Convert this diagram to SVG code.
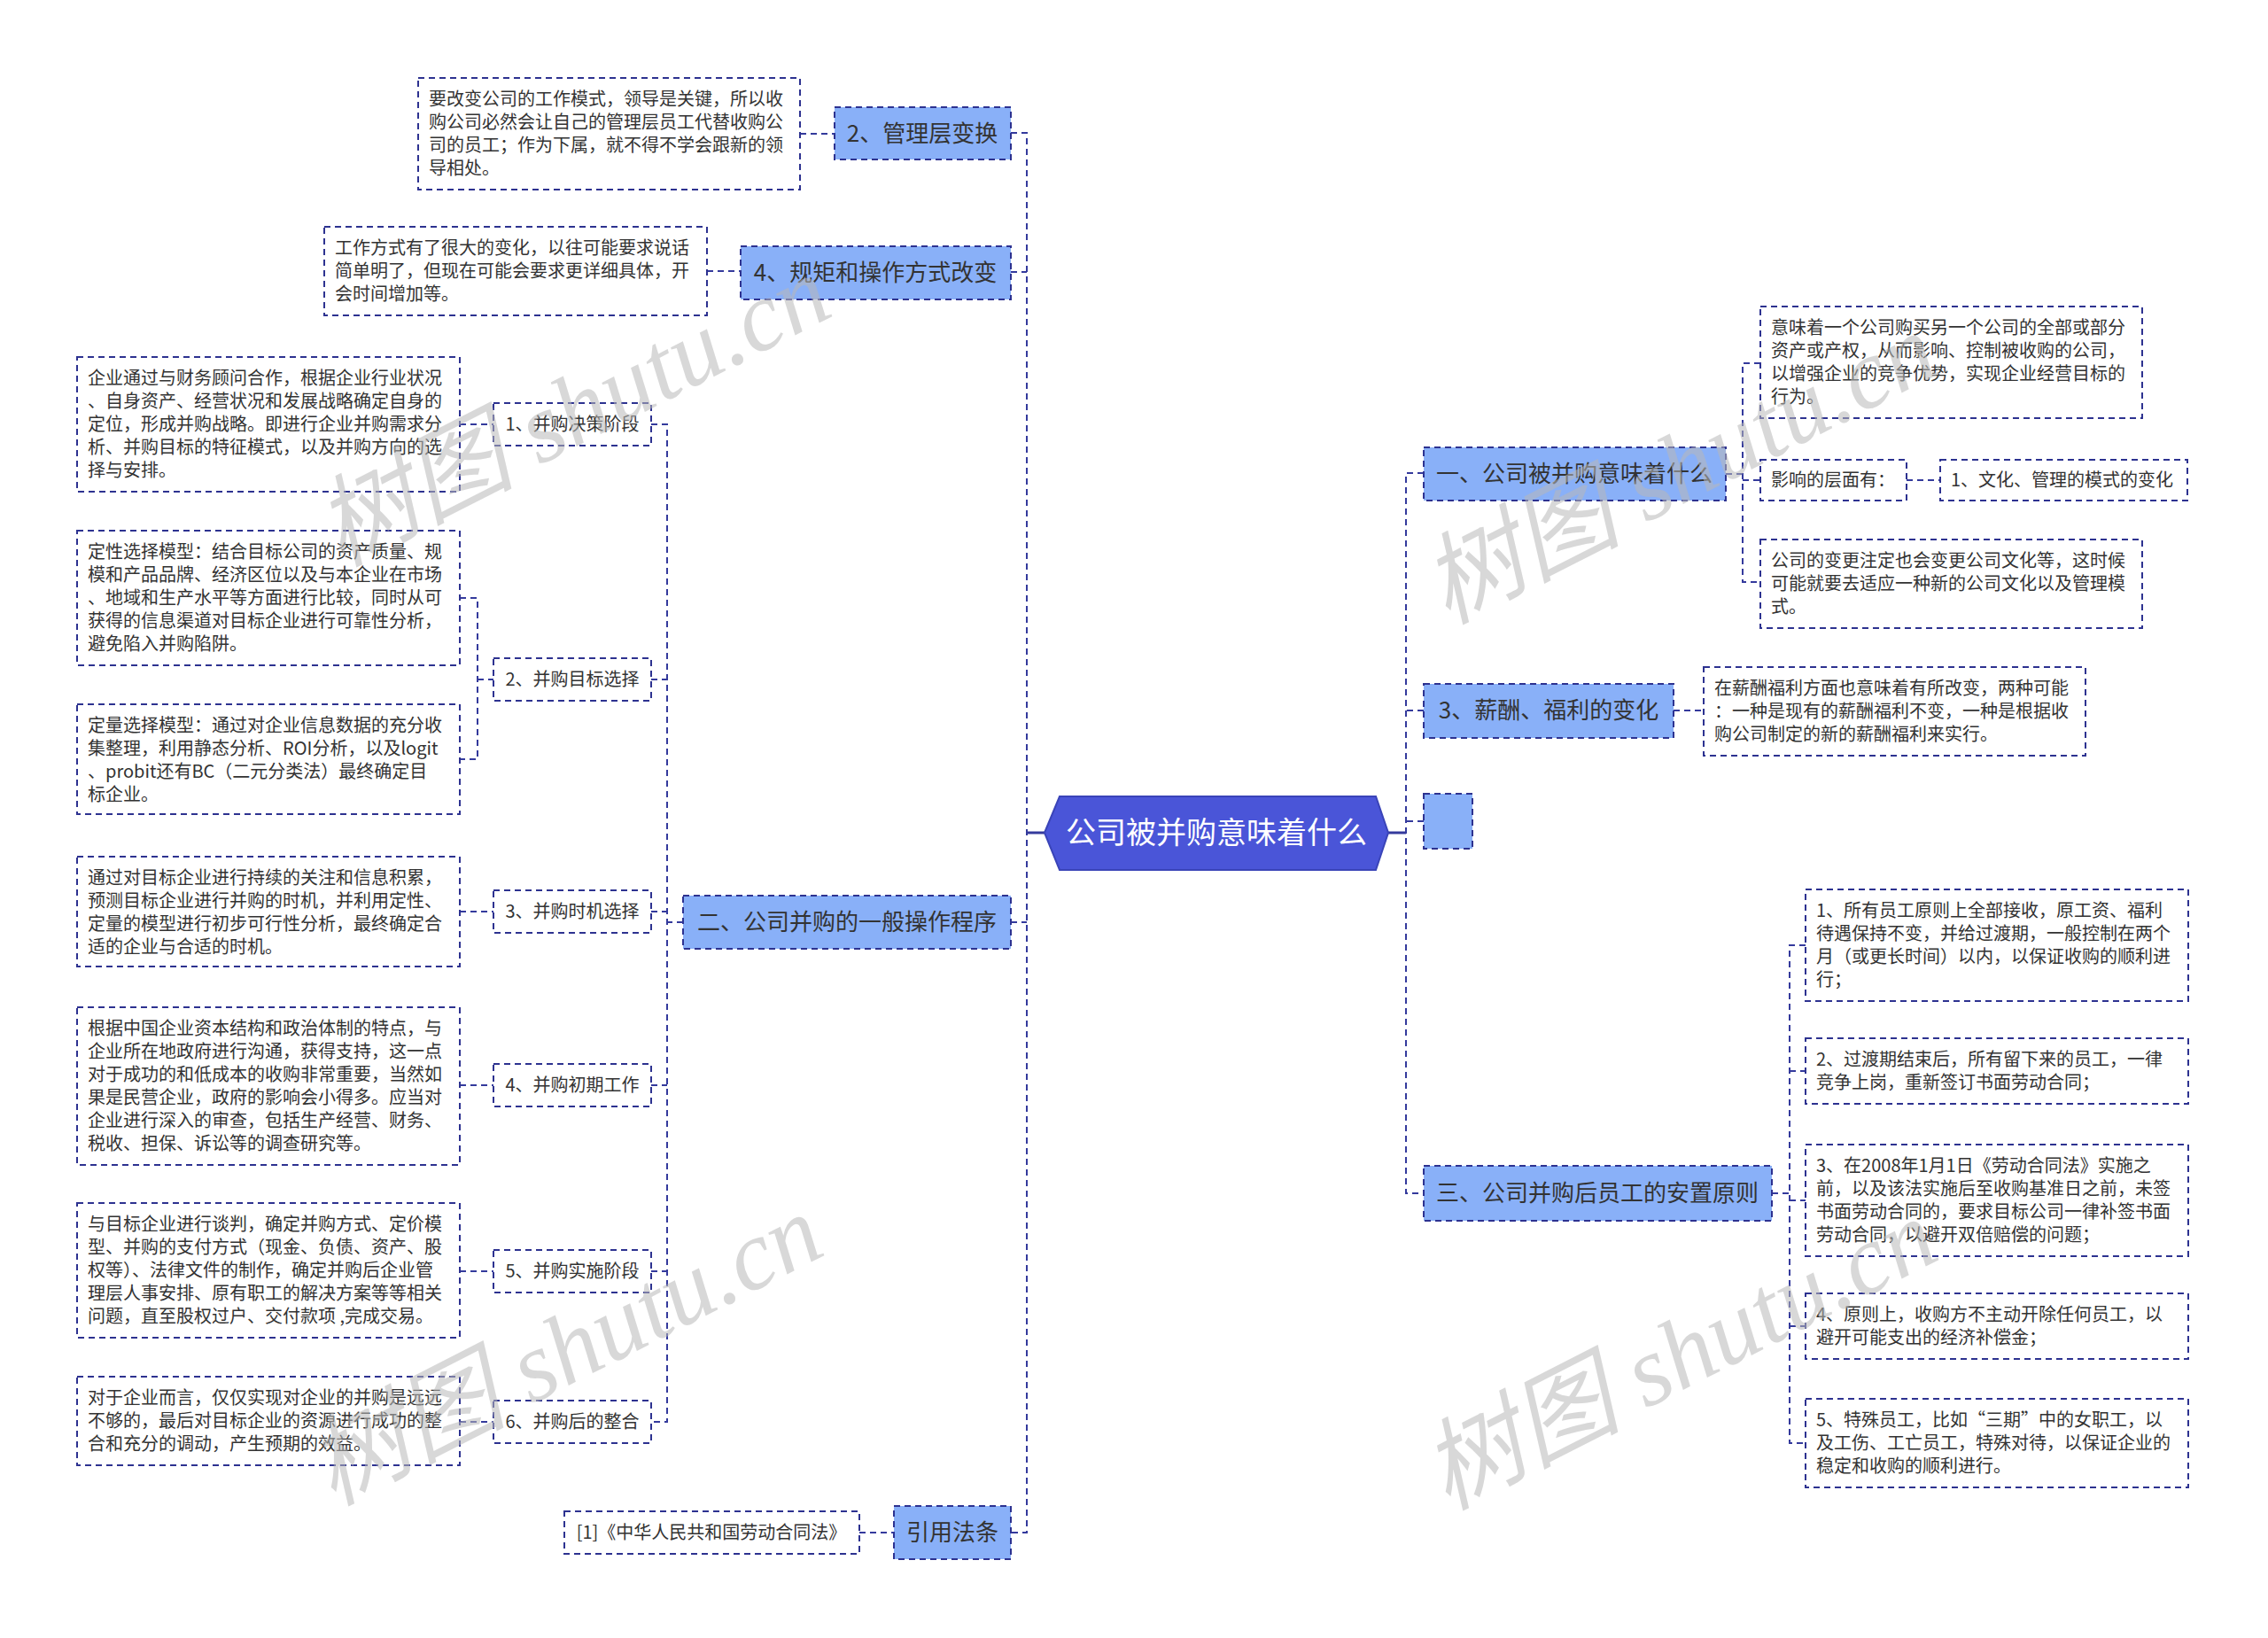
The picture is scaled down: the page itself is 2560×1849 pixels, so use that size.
<svg xmlns="http://www.w3.org/2000/svg" width="2560" height="1849" viewBox="0 0 2560 1849">
<style>
.bg{fill:#ffffff}
.leaf{fill:#ffffff;stroke:#2d3290;stroke-width:2;stroke-dasharray:7,5}
.br{fill:#89b0f8;stroke:#2d3290;stroke-width:2;stroke-dasharray:7,5}
.sub{fill:#ffffff;stroke:#2d3290;stroke-width:2;stroke-dasharray:7,5}
.t{font-family:"Noto Sans CJK SC","Noto Sans",sans-serif;font-size:20px;fill:#333333}
.bt{font-family:"Noto Sans CJK SC","Noto Sans",sans-serif;font-size:26px;fill:#333333;text-anchor:middle}
.st{font-family:"Noto Sans CJK SC","Noto Sans",sans-serif;font-size:20px;fill:#333333;text-anchor:middle}
.ct{font-family:"Noto Sans CJK SC","Noto Sans",sans-serif;font-size:34px;fill:#ffffff;text-anchor:middle}
.c{fill:none;stroke:#343a9c;stroke-width:2;stroke-dasharray:7,5}
.cs{fill:none;stroke:#343a9c;stroke-width:3}
.wm{font-family:"Liberation Serif","Noto Sans CJK SC",serif;font-style:italic;font-size:112px;fill:#b8b8b8;fill-opacity:0.55}
</style>
<rect class="bg" x="0" y="0" width="2560" height="1849"/>

<g id="connectors">
<path class="cs" d="M1179,940 H1159"/>
<path class="cs" d="M1567,940 H1587"/>
<path class="c" d="M1141,150 H1159 V1730 H1141"/>
<path class="c" d="M1141,307 H1159"/>
<path class="c" d="M1141,1041 H1159"/>
<path class="c" d="M1607,534 H1587 V1347 H1607"/>
<path class="c" d="M1607,802 H1587"/>
<path class="c" d="M1607,927 H1587"/>
<path class="c" d="M903,151 H942"/>
<path class="c" d="M798,306 H836"/>
<path class="c" d="M970,1730 H1009"/>
<path class="c" d="M735,479 H753 V1605 H735"/>
<path class="c" d="M735,767 H753"/>
<path class="c" d="M735,1029 H753"/>
<path class="c" d="M735,1225 H753"/>
<path class="c" d="M735,1435 H753"/>
<path class="c" d="M771,1041 H753"/>
<path class="c" d="M519,675 H539 V857 H519"/>
<path class="c" d="M539,767 H557"/>
<path class="c" d="M519,479 H557"/>
<path class="c" d="M519,1029 H557"/>
<path class="c" d="M519,1225 H557"/>
<path class="c" d="M519,1435 H557"/>
<path class="c" d="M519,1605 H557"/>
<path class="c" d="M1948,535 H1967"/>
<path class="c" d="M1987,410 H1967 V657 H1987"/>
<path class="c" d="M1967,542 H1987"/>
<path class="c" d="M2152,542 H2190"/>
<path class="c" d="M1889,802 H1923"/>
<path class="c" d="M2000,1347 H2020"/>
<path class="c" d="M2038,1067 H2020 V1629 H2038"/>
<path class="c" d="M2020,1209 H2038"/>
<path class="c" d="M2020,1355 H2038"/>
<path class="c" d="M2020,1497 H2038"/>
</g>

<g id="root">
<polygon points="1179,940 1196,899 1553,899 1567,940 1553,982 1196,982" fill="#4a55d8" stroke="#3a44b8" stroke-width="2"/>
<text class="ct" x="1373" y="952">公司被并购意味着什么</text>
</g>

<g id="b-guanli">
<rect class="br" x="942" y="121" width="199" height="59"/>
<text class="bt" x="1041" y="160">2、管理层变换</text>
</g>
<g id="b-guiju">
<rect class="br" x="836" y="278" width="305" height="60"/>
<text class="bt" x="988" y="317">4、规矩和操作方式改变</text>
</g>
<g id="b-er">
<rect class="br" x="771" y="1011" width="370" height="60"/>
<text class="bt" x="956" y="1050">二、公司并购的一般操作程序</text>
</g>
<g id="b-yinyong">
<rect class="br" x="1009" y="1700" width="132" height="60"/>
<text class="bt" x="1075" y="1739">引用法条</text>
</g>
<g id="b-yi">
<rect class="br" x="1607" y="505" width="341" height="60"/>
<text class="bt" x="1777" y="544">一、公司被并购意味着什么</text>
</g>
<g id="b-xinchou">
<rect class="br" x="1607" y="772" width="282" height="61"/>
<text class="bt" x="1748" y="811">3、薪酬、福利的变化</text>
</g>
<g id="b-empty">
<rect class="br" x="1607" y="896" width="55" height="62"/>
</g>
<g id="b-san">
<rect class="br" x="1607" y="1316" width="393" height="62"/>
<text class="bt" x="1803" y="1356">三、公司并购后员工的安置原则</text>
</g>

<g id="s1">
<rect class="sub" x="557" y="455" width="178" height="48"/>
<text class="st" x="646" y="486">1、并购决策阶段</text>
</g>
<g id="s2">
<rect class="sub" x="557" y="743" width="178" height="48"/>
<text class="st" x="646" y="774">2、并购目标选择</text>
</g>
<g id="s3">
<rect class="sub" x="557" y="1005" width="178" height="48"/>
<text class="st" x="646" y="1036">3、并购时机选择</text>
</g>
<g id="s4">
<rect class="sub" x="557" y="1201" width="178" height="48"/>
<text class="st" x="646" y="1232">4、并购初期工作</text>
</g>
<g id="s5">
<rect class="sub" x="557" y="1411" width="178" height="48"/>
<text class="st" x="646" y="1442">5、并购实施阶段</text>
</g>
<g id="s6">
<rect class="sub" x="557" y="1581" width="178" height="48"/>
<text class="st" x="646" y="1612">6、并购后的整合</text>
</g>

<g id="l-guanli">
<rect class="leaf" x="472" y="88" width="431" height="126"/>
<text class="t"><tspan x="484" y="119">要改变公司的工作模式，领导是关键，所以收</tspan><tspan x="484" y="145">购公司必然会让自己的管理层员工代替收购公</tspan><tspan x="484" y="171">司的员工；作为下属，就不得不学会跟新的领</tspan><tspan x="484" y="197">导相处。</tspan></text>
</g>
<g id="l-guiju">
<rect class="leaf" x="366" y="256" width="432" height="100"/>
<text class="t"><tspan x="378" y="287">工作方式有了很大的变化，以往可能要求说话</tspan><tspan x="378" y="313">简单明了，但现在可能会要求更详细具体，开</tspan><tspan x="378" y="339">会时间增加等。</tspan></text>
</g>
<g id="l-c1">
<rect class="leaf" x="87" y="403" width="432" height="152"/>
<text class="t"><tspan x="99" y="434">企业通过与财务顾问合作，根据企业行业状况</tspan><tspan x="99" y="460">、自身资产、经营状况和发展战略确定自身的</tspan><tspan x="99" y="486">定位，形成并购战略。即进行企业并购需求分</tspan><tspan x="99" y="512">析、并购目标的特征模式，以及并购方向的选</tspan><tspan x="99" y="538">择与安排。</tspan></text>
</g>
<g id="l-c2a">
<rect class="leaf" x="87" y="599" width="432" height="152"/>
<text class="t"><tspan x="99" y="630">定性选择模型：结合目标公司的资产质量、规</tspan><tspan x="99" y="656">模和产品品牌、经济区位以及与本企业在市场</tspan><tspan x="99" y="682">、地域和生产水平等方面进行比较，同时从可</tspan><tspan x="99" y="708">获得的信息渠道对目标企业进行可靠性分析，</tspan><tspan x="99" y="734">避免陷入并购陷阱。</tspan></text>
</g>
<g id="l-c2b">
<rect class="leaf" x="87" y="795" width="432" height="124"/>
<text class="t"><tspan x="99" y="826">定量选择模型：通过对企业信息数据的充分收</tspan><tspan x="99" y="852">集整理，利用静态分析、ROI分析，以及logit</tspan><tspan x="99" y="878">、probit还有BC（二元分类法）最终确定目</tspan><tspan x="99" y="904">标企业。</tspan></text>
</g>
<g id="l-c3">
<rect class="leaf" x="87" y="967" width="432" height="124"/>
<text class="t"><tspan x="99" y="998">通过对目标企业进行持续的关注和信息积累，</tspan><tspan x="99" y="1024">预测目标企业进行并购的时机，并利用定性、</tspan><tspan x="99" y="1050">定量的模型进行初步可行性分析，最终确定合</tspan><tspan x="99" y="1076">适的企业与合适的时机。</tspan></text>
</g>
<g id="l-c4">
<rect class="leaf" x="87" y="1137" width="432" height="178"/>
<text class="t"><tspan x="99" y="1168">根据中国企业资本结构和政治体制的特点，与</tspan><tspan x="99" y="1194">企业所在地政府进行沟通，获得支持，这一点</tspan><tspan x="99" y="1220">对于成功的和低成本的收购非常重要，当然如</tspan><tspan x="99" y="1246">果是民营企业，政府的影响会小得多。应当对</tspan><tspan x="99" y="1272">企业进行深入的审查，包括生产经营、财务、</tspan><tspan x="99" y="1298">税收、担保、诉讼等的调查研究等。</tspan></text>
</g>
<g id="l-c5">
<rect class="leaf" x="87" y="1358" width="432" height="152"/>
<text class="t"><tspan x="99" y="1389">与目标企业进行谈判，确定并购方式、定价模</tspan><tspan x="99" y="1415">型、并购的支付方式（现金、负债、资产、股</tspan><tspan x="99" y="1441">权等）、法律文件的制作，确定并购后企业管</tspan><tspan x="99" y="1467">理层人事安排、原有职工的解决方案等等相关</tspan><tspan x="99" y="1493">问题，直至股权过户、交付款项 ,完成交易。</tspan></text>
</g>
<g id="l-c6">
<rect class="leaf" x="87" y="1554" width="432" height="100"/>
<text class="t"><tspan x="99" y="1585">对于企业而言，仅仅实现对企业的并购是远远</tspan><tspan x="99" y="1611">不够的，最后对目标企业的资源进行成功的整</tspan><tspan x="99" y="1637">合和充分的调动，产生预期的效益。</tspan></text>
</g>
<g id="l-ref">
<rect class="leaf" x="637" y="1706" width="333" height="48"/>
<text class="st" x="803" y="1737">[1]《中华人民共和国劳动合同法》</text>
</g>

<g id="r-yi-a">
<rect class="leaf" x="1987" y="346" width="431" height="126"/>
<text class="t"><tspan x="1999" y="377">意味着一个公司购买另一个公司的全部或部分</tspan><tspan x="1999" y="403">资产或产权，从而影响、控制被收购的公司，</tspan><tspan x="1999" y="429">以增强企业的竞争优势，实现企业经营目标的</tspan><tspan x="1999" y="455">行为。</tspan></text>
</g>
<g id="r-yi-b">
<rect class="leaf" x="1987" y="519" width="165" height="46"/>
<text class="t" x="1999" y="549">影响的层面有：</text>
</g>
<g id="r-yi-b1">
<rect class="leaf" x="2190" y="519" width="279" height="46"/>
<text class="t" x="2202" y="549">1、文化、管理的模式的变化</text>
</g>
<g id="r-yi-c">
<rect class="leaf" x="1987" y="609" width="431" height="100"/>
<text class="t"><tspan x="1999" y="640">公司的变更注定也会变更公司文化等，这时候</tspan><tspan x="1999" y="666">可能就要去适应一种新的公司文化以及管理模</tspan><tspan x="1999" y="692">式。</tspan></text>
</g>
<g id="r-xinchou">
<rect class="leaf" x="1923" y="753" width="431" height="100"/>
<text class="t"><tspan x="1935" y="784">在薪酬福利方面也意味着有所改变，两种可能</tspan><tspan x="1935" y="810">：一种是现有的薪酬福利不变，一种是根据收</tspan><tspan x="1935" y="836">购公司制定的新的薪酬福利来实行。</tspan></text>
</g>
<g id="r-san-1">
<rect class="leaf" x="2038" y="1004" width="432" height="126"/>
<text class="t"><tspan x="2050" y="1035">1、所有员工原则上全部接收，原工资、福利</tspan><tspan x="2050" y="1061">待遇保持不变，并给过渡期，一般控制在两个</tspan><tspan x="2050" y="1087">月（或更长时间）以内，以保证收购的顺利进</tspan><tspan x="2050" y="1113">行；</tspan></text>
</g>
<g id="r-san-2">
<rect class="leaf" x="2038" y="1172" width="432" height="74"/>
<text class="t"><tspan x="2050" y="1203">2、过渡期结束后，所有留下来的员工，一律</tspan><tspan x="2050" y="1229">竞争上岗，重新签订书面劳动合同；</tspan></text>
</g>
<g id="r-san-3">
<rect class="leaf" x="2038" y="1292" width="432" height="126"/>
<text class="t"><tspan x="2050" y="1323">3、在2008年1月1日《劳动合同法》实施之</tspan><tspan x="2050" y="1349">前，以及该法实施后至收购基准日之前，未签</tspan><tspan x="2050" y="1375">书面劳动合同的，要求目标公司一律补签书面</tspan><tspan x="2050" y="1401">劳动合同，以避开双倍赔偿的问题；</tspan></text>
</g>
<g id="r-san-4">
<rect class="leaf" x="2038" y="1460" width="432" height="74"/>
<text class="t"><tspan x="2050" y="1491">4、原则上，收购方不主动开除任何员工，以</tspan><tspan x="2050" y="1517">避开可能支出的经济补偿金；</tspan></text>
</g>
<g id="r-san-5">
<rect class="leaf" x="2038" y="1579" width="432" height="100"/>
<text class="t"><tspan x="2050" y="1610">5、特殊员工，比如“三期”中的女职工，以</tspan><tspan x="2050" y="1636">及工伤、工亡员工，特殊对待，以保证企业的</tspan><tspan x="2050" y="1662">稳定和收购的顺利进行。</tspan></text>
</g>

<g id="watermarks">
<text class="wm" transform="translate(384,640) rotate(-27)">树图 shutu.cn</text>
<text class="wm" transform="translate(375,1700) rotate(-27)">树图 shutu.cn</text>
<text class="wm" transform="translate(1633,705) rotate(-27)">树图 shutu.cn</text>
<text class="wm" transform="translate(1633,1705) rotate(-27)">树图 shutu.cn</text>
</g>
</svg>
